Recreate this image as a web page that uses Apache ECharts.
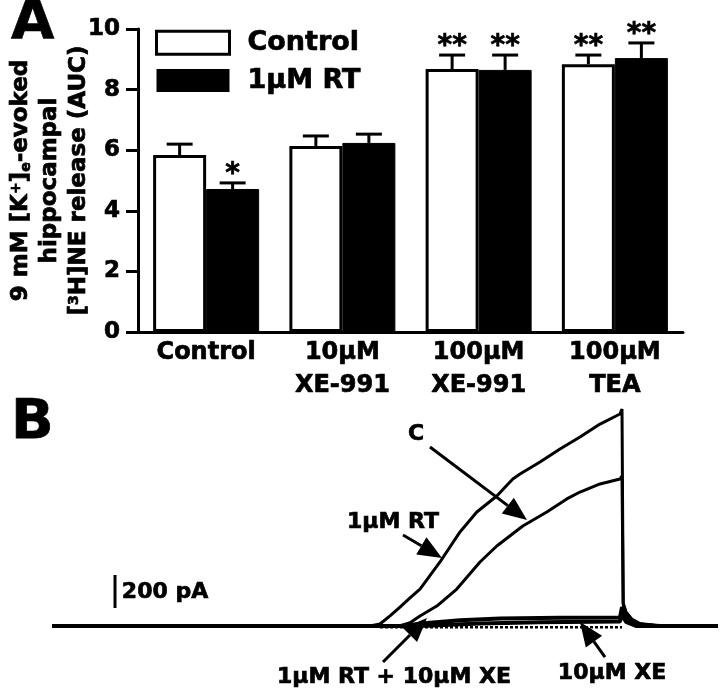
<!DOCTYPE html>
<html>
<head>
<meta charset="utf-8">
<script src="https://cdn.jsdelivr.net/npm/echarts@6/dist/echarts.min.js"></script>
<style>html,body{margin:0;padding:0;background:#fff}#c{width:720px;height:693px}</style>
</head>
<body>
<div id="c"></div>
<script>
// ---------- Panel A data ----------
const categories = ['Control', '10μM\nXE-991', '100μM\nXE-991', '100μM\nTEA'];
const controlMean = [5.84, 6.14, 8.68, 8.84];
const controlSem  = [0.36, 0.33, 0.46, 0.30];
const rtMean      = [4.72, 6.24, 8.65, 9.04];
const rtSem       = [0.20, 0.29, 0.49, 0.50];
const controlSig  = ['', '', '**', '**'];
const rtSig       = ['*', '', '**', '**'];
const yTicks      = [0, 2, 4, 6, 8, 10];

// ---------- Panel B data (time ms, current pA) ----------
const traceRT = [[130,0],[700,0],[925,0],[950,12],[975,61],[1000,115],[1025,170],[1050,224],[1100,388],[1150,570],[1192,691],[1242,788],[1282,891],[1300,921],[1350,994],[1400,1073],[1450,1145],[1500,1224],[1550,1285],[1555,1315],[1558,140],[1565,85],[1580,40],[1600,15],[1650,0],[1795,0]];
const traceC = [[130,0],[1000,0],[1025,20],[1050,61],[1092,121],[1142,224],[1200,388],[1242,485],[1307,606],[1367,691],[1417,770],[1450,812],[1500,861],[1550,891],[1555,909],[1558,130],[1565,80],[1580,38],[1600,12],[1650,0],[1795,0]];
const traceRTXE = [[130,0],[1000,0],[1075,20],[1150,35],[1250,45],[1400,50],[1550,52],[1555,115],[1562,70],[1575,30],[1600,8],[1650,0],[1795,0]];
const traceXE = [[130,0],[1050,0],[1200,15],[1350,22],[1550,28],[1555,70],[1565,25],[1590,0],[1795,0]];
const baselineDotted = [[950,-8],[1555,-8]];
const scaleBar = [[287.5,109],[287.5,309]];
const arrows = [ // [fromT, fromI, tipT, tipI]
  [1075,1085,1317.5,642],
  [1007.5,552,1105,412],
  [957.5,-218,1067.5,48],
  [1512.5,-188,1450,24]
];
const notes = [ // [t, I, text]
  [1040,1164,'C'],
  [982.5,630,'1μM RT'],
  [985,-309,'1μM RT + 10μM XE'],
  [1530,-285,'10μM XE'],
  [412.5,206,'200 pA']
];

const FONT = 'DejaVu Sans';
const BAR_W = 53;
const HEAVY = {textBorderColor: '#000', textBorderWidth: 0.7};

const errData = [];
categories.forEach((c, i) => {
  errData.push([i, controlMean[i], controlMean[i] + controlSem[i], -1, controlSig[i]]);
  errData.push([i, rtMean[i], rtMean[i] + rtSem[i], 1, rtSig[i]]);
});

const chart = echarts.init(document.getElementById('c'));
const option = {
  animation: false,
  backgroundColor: '#fff',
  title: [
    {text: 'A', left: 6, top: -10, textStyle: Object.assign({fontFamily: FONT, fontWeight: 'bold', fontSize: 56, color: '#000'}, HEAVY)},
    {text: 'B', left: 6, top: 390, textStyle: Object.assign({fontFamily: FONT, fontWeight: 'bold', fontSize: 56, color: '#000'}, HEAVY)}
  ],
  legend: {
    left: 155, top: 29, padding: 0, orient: 'vertical', itemWidth: 73, itemHeight: 23, itemGap: 10, icon: 'rect',
    textStyle: Object.assign({fontFamily: FONT, fontWeight: 'bold', fontSize: 27, lineHeight: 26, color: '#000', padding: [0, 0, 0, 13]}, HEAVY),
    data: [
      {name: 'Control', itemStyle: {color: '#fff', borderColor: '#000', borderWidth: 3}},
      {name: '1μM RT', itemStyle: {color: '#000', borderColor: '#000', borderWidth: 0}}
    ]
  },
  grid: [
    {left: 138, right: 37, top: 29, height: 303, containLabel: false, outerBoundsMode: 'none'},
    {left: 0, right: 0, top: 395, height: 297, containLabel: false, outerBoundsMode: 'none'}
  ],
  xAxis: [
    {type: 'category', gridIndex: 0, data: categories,
     axisLine: {lineStyle: {color: '#000', width: 3}}, axisTick: {show: false},
     axisLabel: Object.assign({color: '#000', fontFamily: FONT, fontWeight: 'bold', fontSize: 24, lineHeight: 33, margin: 4, interval: 0}, HEAVY)},
    {type: 'value', gridIndex: 1, min: 0, max: 1800, show: false}
  ],
  yAxis: [
    {type: 'value', gridIndex: 0, min: yTicks[0], max: yTicks[yTicks.length - 1], interval: 2,
     axisLine: {show: true, lineStyle: {color: '#000', width: 3}},
     axisTick: {show: true, length: 12, lineStyle: {color: '#000', width: 3}},
     splitLine: {show: false},
     axisLabel: Object.assign({color: '#000', fontFamily: FONT, fontWeight: 'bold', fontSize: 23, margin: 18}, HEAVY),
     name: '9 mM [K{sup|+}]{sub|e}-evoked\nhippocampal\n[{sup|3}H]NE release (AUC)',
     nameLocation: 'middle', nameRotate: 90, nameGap: 44, nameMoveOverlap: false,
     nameTextStyle: Object.assign({color: '#000', fontFamily: FONT, fontWeight: 'bold', fontSize: 23, lineHeight: 29,
       rich: {
         sup: Object.assign({fontFamily: FONT, fontWeight: 'bold', fontSize: 14, color: '#000', verticalAlign: 'top', lineHeight: 29, padding: [2, 0, 0, 0]}, HEAVY),
         sub: Object.assign({fontFamily: FONT, fontWeight: 'bold', fontSize: 14, color: '#000', verticalAlign: 'bottom', lineHeight: 29, padding: [0, 0, 3, 0]}, HEAVY)
       }}, HEAVY)},
    {type: 'value', gridIndex: 1, min: -400, max: 1400, show: false}
  ],
  series: [
    {name: 'Control', type: 'bar', xAxisIndex: 0, yAxisIndex: 0, data: controlMean, barWidth: BAR_W, barGap: '0%',
     itemStyle: {color: '#fff', borderColor: '#000', borderWidth: 3}},
    {name: '1μM RT', type: 'bar', xAxisIndex: 0, yAxisIndex: 0, data: rtMean, barWidth: BAR_W, barGap: '0%',
     itemStyle: {color: '#000', borderColor: '#000', borderWidth: 1}},
    {type: 'custom', xAxisIndex: 0, yAxisIndex: 0, data: errData, z: 5,
     encode: {x: 0, y: [1, 2]},
     renderItem: function (params, api) {
       const d = errData[params.dataIndex];
       const base = api.coord([d[0], d[1]]);
       const top = api.coord([d[0], d[2]]);
       const x = base[0] + d[3] * BAR_W / 2;
       const st = {stroke: '#000', lineWidth: 3};
       const ch = [
         {type: 'line', shape: {x1: x, y1: base[1], x2: x, y2: top[1]}, style: st},
         {type: 'line', shape: {x1: x - 13, y1: top[1], x2: x + 13, y2: top[1]}, style: st}
       ];
       if (d[4]) {
         ch.push({type: 'text', style: {text: d[4], x: x, y: top[1] + 6, align: 'center', verticalAlign: 'bottom',
           fontFamily: FONT, fontWeight: 'bold', fontSize: 28, fill: '#000', stroke: '#000', lineWidth: 0.7}});
       }
       return {type: 'group', children: ch};
     }},
    {type: 'line', xAxisIndex: 1, yAxisIndex: 1, data: baselineDotted, symbol: 'none', lineStyle: {color: '#000', width: 2.5, type: [3, 2]}},
    {type: 'line', xAxisIndex: 1, yAxisIndex: 1, data: traceXE, symbol: 'none', lineStyle: {color: '#000', width: 4}},
    {type: 'line', xAxisIndex: 1, yAxisIndex: 1, data: traceRTXE, symbol: 'none', lineStyle: {color: '#000', width: 4}},
    {type: 'line', xAxisIndex: 1, yAxisIndex: 1, data: traceC, symbol: 'none', lineStyle: {color: '#000', width: 3}},
    {type: 'line', xAxisIndex: 1, yAxisIndex: 1, data: traceRT, symbol: 'none', lineStyle: {color: '#000', width: 3}},
    {type: 'line', xAxisIndex: 1, yAxisIndex: 1, data: scaleBar, symbol: 'none', lineStyle: {color: '#000', width: 3}},
    {type: 'custom', xAxisIndex: 1, yAxisIndex: 1, data: arrows, z: 6, clip: false,
     renderItem: function (params, api) {
       const p1 = api.coord([api.value(0), api.value(1)]);
       const p2 = api.coord([api.value(2), api.value(3)]);
       const dx = p2[0] - p1[0], dy = p2[1] - p1[1];
       const len = Math.sqrt(dx * dx + dy * dy);
       const ux = dx / len, uy = dy / len;
       const L = 24, W = 20;
       const bx = p2[0] - ux * L, by = p2[1] - uy * L;
       const nx = -uy, ny = ux;
       return {type: 'group', children: [
         {type: 'line', shape: {x1: p1[0], y1: p1[1], x2: bx, y2: by}, style: {stroke: '#000', lineWidth: 3}},
         {type: 'polygon', shape: {points: [[p2[0], p2[1]], [bx + nx * W / 2, by + ny * W / 2], [bx - nx * W / 2, by - ny * W / 2]]}, style: {fill: '#000'}}
       ]};
     }},
    {type: 'scatter', xAxisIndex: 1, yAxisIndex: 1, data: notes, symbolSize: 0, z: 7,
     itemStyle: {opacity: 1},
     label: Object.assign({show: true, position: 'inside', formatter: p => p.data[2], color: '#000', fontFamily: FONT, fontWeight: 'bold', fontSize: 22, opacity: 1}, HEAVY)}
  ]
};
chart.setOption(option);
</script>
</body>
</html>
